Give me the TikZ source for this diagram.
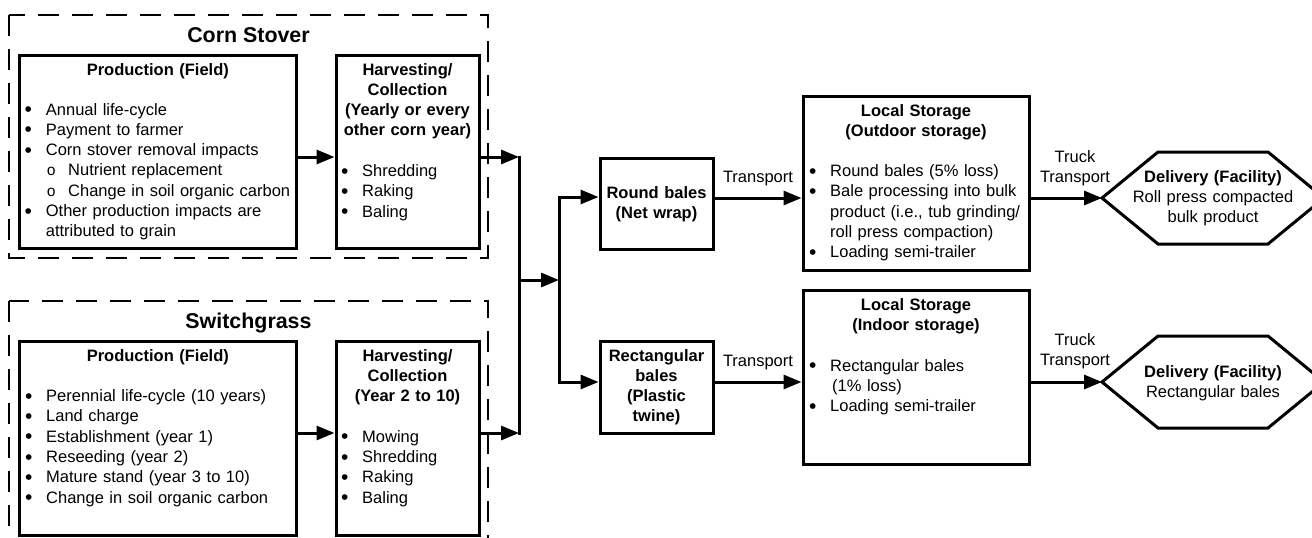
\documentclass[tikz,border=0pt]{standalone}
\usepackage{fontspec}
\setmainfont{Liberation Sans}
\newfontfamily\courfont{Liberation Mono}
\usetikzlibrary{arrows.meta}
\newcommand\fs{\fontsize{16.5}{20.3}\selectfont}
\newcommand\bdot{\makebox[0pt]{\fontsize{21}{21}\selectfont\raisebox{-1.6pt}{•}}}
\newcommand\fbul{\noindent\llap{\bdot\hspace{17.5pt}}}
\newcommand\bul{\par\fbul}
\newcommand\subbul{\par\noindent\hspace*{22.3pt}\llap{\makebox[0pt]{\fontsize{15.5}{15.5}\selectfont\courfont o}\hspace{17pt}}}
\begin{document}
\begin{tikzpicture}[x=1pt,y=-1pt,
  box/.style={draw,line width=3pt,inner sep=0pt},
  dbox/.style={draw,line width=1.2pt,dash pattern=on 21pt off 13pt},
  ln/.style={line width=3pt,line cap=rect},
  arr/.style={line width=3pt,-{Triangle[length=18pt,width=14pt]}},
  txt/.style={font=\fs,inner sep=0pt,text width=300pt,align=left,anchor=base west},
  ttl/.style={font=\fs\bfseries,inner sep=0pt,text width=220pt,align=center,anchor=base},
  lbl/.style={font=\fs,inner sep=0pt,text width=220pt,align=center,anchor=base},
  big/.style={font=\fontsize{21.4}{25}\selectfont\bfseries,inner sep=0pt,anchor=base}]
\useasboundingbox (0,0) rectangle (1312,538);

% dashed group frames
\draw[dbox] (9,15) rectangle (488,258);
\draw[dbox] (9,301) rectangle (488,580);
\node[big] (tcs) at (248.5,42.5) {Corn Stover};
\node[big] (tsg) at (248.5,328) {Switchgrass};

% boxes
\node[box,minimum width=276.4pt,minimum height=193pt] (cp) at (157.8,151.5) {};
\node[box,minimum width=143pt,minimum height=193pt] (ch) at (407.5,151.5) {};
\node[box,minimum width=276.4pt,minimum height=194pt] (sp) at (157.8,438) {};
\node[box,minimum width=143pt,minimum height=194pt] (sh) at (407.5,438) {};
\node[box,minimum width=113pt,minimum height=91pt] (rb) at (656.5,203.5) {};
\node[box,minimum width=113pt,minimum height=92pt] (rr) at (656.5,387) {};
\node[box,minimum width=226pt,minimum height=174pt] (lo) at (916,183) {};
\node[box,minimum width=226pt,minimum height=174pt] (li) at (916,377) {};
\draw[line width=3pt] (1102,198) -- (1158,152) -- (1268,152) -- (1324,198) -- (1268,244) -- (1158,244) -- cycle;
\draw[line width=3pt] (1102,382) -- (1158,336) -- (1268,336) -- (1324,382) -- (1268,428) -- (1158,428) -- cycle;
\coordinate (dta) at (1102,198);
\coordinate (dtb) at (1102,382);

% texts: corn stover
\node[ttl] (cpt) at (157.8,75) {Production (Field)};
\node[txt] (cpl) at (45.7,115) {\fbul Annual life-cycle
\bul Payment to farmer
\bul Corn stover removal impacts
\subbul Nutrient replacement
\subbul Change in soil organic carbon
\bul Other production impacts are\\attributed to grain};
\node[ttl] (cht) at (407.5,75) {Harvesting/\\Collection\\(Yearly or every\\other corn year)};
\node[txt] (chl) at (362,176.5) {\fbul Shredding
\bul Raking
\bul Baling};

% texts: switchgrass
\node[ttl] (spt) at (157.8,361) {Production (Field)};
\node[txt] (spl) at (46,401.6) {\fbul Perennial life-cycle (10 years)
\bul Land charge
\bul Establishment (year 1)
\bul Reseeding (year 2)
\bul Mature stand (year 3 to 10)
\bul Change in soil organic carbon};
\node[ttl] (sht) at (407.5,361) {Harvesting/\\Collection\\(Year 2 to 10)};
\node[txt] (shl) at (362,442.2) {\fbul Mowing
\bul Shredding
\bul Raking
\bul Baling};

% bales
\node[ttl] (rbt) at (656.5,198) {Round bales\\(Net wrap)};
\node[ttl] (rrt) at (656.5,361) {Rectangular\\bales\\(Plastic\\twine)};

% storage
\node[ttl] (lot) at (916,116.5) {Local Storage\\(Outdoor storage)};
\node[txt] (lol) at (830,176.5) {\fbul Round bales (5\% loss)
\bul Bale processing into bulk\\product (i.e., tub grinding/\\roll press compaction)
\bul Loading semi-trailer};
\node[ttl] (lit) at (916,310) {Local Storage\\(Indoor storage)};
\node[txt] (lil) at (830,371) {\fbul Rectangular bales\\\hspace*{2pt}(1\% loss)
\bul Loading semi-trailer};

% delivery
\node[lbl] (dat) at (1213,182) {\textbf{Delivery (Facility)}\\Roll press compacted\\bulk product};
\node[lbl] (dbt) at (1213,377) {\textbf{Delivery (Facility)}\\Rectangular bales};

% connector labels
\node[lbl] (tr1) at (758,182) {Transport};
\node[lbl] (tr2) at (758,366) {Transport};
\node[lbl] (tt1) at (1075,162) {Truck\\Transport};
\node[lbl] (tt2) at (1075,345) {Truck\\Transport};

% connectors
\coordinate (y1) at (0,157);
\coordinate (y2) at (0,433);
\coordinate (j1t) at (519,157);
\coordinate (j1b) at (519,433);
\coordinate (j1m) at (519,280);
\coordinate (j2t) at (559,197);
\coordinate (j2b) at (559,382);
\coordinate (j2m) at (559,280);
\coordinate (ya) at (0,198);
\coordinate (yb) at (0,382);
\draw[arr] (cp.east|-y1) -- (ch.west|-y1);
\draw[arr] (ch.east|-y1) -- (j1t);
\draw[arr] (sp.east|-y2) -- (sh.west|-y2);
\draw[arr] (sh.east|-y2) -- (j1b);
\draw[ln] (j1t) -- (j1b);
\draw[arr] (j1m) -- (j2m);
\draw[arr] (j2b) -- (j2t) -- (rb.west|-j2t);
\draw[arr] (j2t) -- (j2b) -- (rr.west|-j2b);
\draw[arr] (rb.east|-ya) -- (lo.west|-ya);
\draw[arr] (rr.east|-yb) -- (li.west|-yb);
\draw[arr] (lo.east|-ya) -- (dta);
\draw[arr] (li.east|-yb) -- (dtb);
\end{tikzpicture}
\end{document}
